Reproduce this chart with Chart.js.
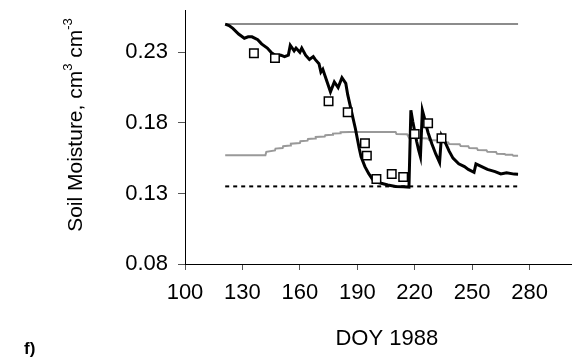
<!DOCTYPE html>
<html>
<head>
<meta charset="utf-8">
<title>Soil moisture, DOY 1988</title>
<script src="https://cdn.jsdelivr.net/npm/chart.js@4.4.1/dist/chart.umd.min.js"></script>
<style>
    html, body { margin: 0; padding: 0; background: #fff; overflow: hidden; }
    #wrap { width: 596px; height: 358px; }
</style>
</head>
<body>
<div id="wrap"><canvas id="moistureChart" width="596" height="358"></canvas></div>
<script>
// simulated soil water content (daily)
const simDays = [121, 123, 125, 128, 131, 133, 135, 138, 140, 143, 145, 148, 150, 152, 154, 155, 157, 158, 160, 161,
    163, 165, 167, 168, 170, 171, 172, 173, 176, 178, 180, 182, 184, 185, 187, 189, 191, 192, 194, 196,
    198, 200, 203, 206, 210, 214, 217, 218, 219, 220, 221, 222, 223, 224, 225, 226, 227, 229, 231, 233,
    234, 236, 238, 240, 243, 246, 248, 251, 252, 255, 258, 262, 265, 268, 272, 274];
const simTheta = [0.250, 0.249, 0.247, 0.243, 0.240, 0.241, 0.241, 0.239, 0.236, 0.233, 0.230, 0.227, 0.228, 0.227, 0.228, 0.235, 0.231, 0.233, 0.230, 0.233,
    0.228, 0.225, 0.227, 0.225, 0.222, 0.216, 0.218, 0.214, 0.202, 0.209, 0.205, 0.212, 0.208, 0.200, 0.188, 0.176, 0.162, 0.156, 0.149, 0.144,
    0.140, 0.138, 0.137, 0.136, 0.135, 0.1348, 0.1345, 0.189, 0.181, 0.174, 0.167, 0.161, 0.156, 0.189, 0.184, 0.178, 0.173, 0.165, 0.158, 0.152,
    0.171, 0.166, 0.160, 0.155, 0.151, 0.149, 0.147, 0.145, 0.151, 0.149, 0.147, 0.1455, 0.1438, 0.1446, 0.1437, 0.1436];

// measured values
const obsDays = [136, 147, 175, 185, 194, 195, 200, 208, 214, 220, 227, 234];
const obsTheta = [0.2294, 0.2259, 0.1954, 0.1876, 0.1656, 0.1568, 0.1403, 0.1438, 0.1417, 0.1722, 0.1798, 0.1691];

// saturation
const satDays = [121, 274];
const satTheta = [0.25, 0.25];

// field capacity
const fcDays = [121, 142, 142.5, 147, 147.3, 151, 151.3, 155, 155.3, 160, 160.3, 164, 164.3, 168, 168.3, 173, 173.3, 177, 177.3, 181,
    181.3, 186, 190, 210, 210.5, 216, 216.5, 221, 221.5, 227, 227.5, 232, 232.5, 237.5, 238, 243.5, 244, 248, 248.5, 252.5,
    253, 257.5, 258, 262.5, 263, 267, 267.5, 271, 271.5, 274];
const fcTheta = [0.157, 0.157, 0.1595, 0.1605, 0.1618, 0.1622, 0.1635, 0.1640, 0.1652, 0.1657, 0.1670, 0.1674, 0.1686, 0.1690, 0.1700, 0.1703, 0.1713, 0.1716, 0.1724, 0.1727,
    0.1733, 0.1735, 0.1736, 0.1736, 0.1722, 0.1720, 0.1708, 0.1705, 0.1693, 0.1690, 0.1678, 0.1676, 0.1664, 0.1662, 0.1650, 0.1648, 0.1636, 0.1634, 0.1622, 0.1620,
    0.1608, 0.1606, 0.1595, 0.1593, 0.1582, 0.1580, 0.1574, 0.1574, 0.1568, 0.1568];

// wilting point
const wpDays = [121, 274];
const wpTheta = [0.135, 0.135];

const xTicks = [100, 130, 160, 190, 220, 250, 280];
const yTicks = [0.08, 0.13, 0.18, 0.23];

const fontFamily = "'Liberation Sans', Arial, Helvetica, sans-serif";

document.addEventListener("DOMContentLoaded", function () {
    drawMoistureChart();
});

function toPoints(xs, ys) {
    return xs.map((x, i) => ({ x: x, y: ys[i] }));
}

// y title has superscripts, so it is drawn by hand; same for the panel letter
const axisTextPlugin = {
    id: "axisText",
    afterDraw(chart) {
        const ctx = chart.ctx;
        ctx.save();
        ctx.fillStyle = "#000";
        ctx.textBaseline = "alphabetic";
        ctx.textAlign = "left";

        ctx.font = "bold 17px " + fontFamily;
        ctx.fillText("f)", 24, 354);

        const mainFont = "21px " + fontFamily;
        const supFont = "13px " + fontFamily;
        const parts = [
            { text: "Soil Moisture, cm", sup: false },
            { text: "3", sup: true },
            { text: " cm", sup: false },
            { text: "-3", sup: true }
        ];
        let total = 0;
        parts.forEach(p => {
            ctx.font = p.sup ? supFont : mainFont;
            p.w = ctx.measureText(p.text).width;
            total += p.w;
        });
        ctx.translate(82, 125);
        ctx.rotate(-Math.PI / 2);
        let pos = -total / 2;
        parts.forEach(p => {
            ctx.font = p.sup ? supFont : mainFont;
            ctx.fillText(p.text, pos, p.sup ? -10 : 0);
            pos += p.w;
        });
        ctx.restore();
    }
};

function drawMoistureChart() {
    const ctx = document.getElementById("moistureChart").getContext("2d");
    new Chart(ctx, {
        type: "line",
        data: {
            datasets: [
                {
                    label: "Measured",
                    data: toPoints(obsDays, obsTheta),
                    showLine: false,
                    pointStyle: "rect",
                    pointRadius: 6,
                    pointBorderWidth: 1.5,
                    pointBorderColor: "#000",
                    pointBackgroundColor: "#fff"
                },
                {
                    label: "Simulated",
                    data: toPoints(simDays, simTheta),
                    borderColor: "#000",
                    borderWidth: 3,
                    pointRadius: 0,
                    tension: 0
                },
                {
                    label: "Field capacity",
                    data: toPoints(fcDays, fcTheta),
                    borderColor: "#999",
                    borderWidth: 2,
                    pointRadius: 0,
                    tension: 0
                },
                {
                    label: "Saturation",
                    data: toPoints(satDays, satTheta),
                    borderColor: "#666",
                    borderWidth: 1.5,
                    pointRadius: 0
                },
                {
                    label: "Wilting point",
                    data: toPoints(wpDays, wpTheta),
                    borderColor: "#000",
                    borderWidth: 2,
                    borderDash: [4, 4],
                    pointRadius: 0
                }
            ]
        },
        options: {
            responsive: false,
            animation: false,
            layout: { padding: { top: 10, left: 0, right: 0, bottom: 0 } },
            plugins: {
                legend: { display: false },
                tooltip: { enabled: false }
            },
            scales: {
                x: {
                    type: "linear",
                    min: 100,
                    max: 310.8,
                    afterBuildTicks: function (scale) {
                        scale.ticks = xTicks.map(v => ({ value: v }));
                    },
                    afterFit: function (scale) {
                        scale.height = 94;
                        scale.paddingLeft = 0;
                        scale.paddingRight = 0;
                    },
                    ticks: {
                        color: "#000",
                        font: { size: 22, family: fontFamily },
                        padding: 10,
                        maxRotation: 0,
                        autoSkip: false
                    },
                    grid: { drawOnChartArea: false, tickLength: 6, color: "#555" },
                    border: { color: "#000", width: 1 },
                    title: {
                        display: true,
                        text: "DOY 1988",
                        color: "#000",
                        font: { size: 22, family: fontFamily },
                        padding: { top: 0, bottom: 6 }
                    }
                },
                y: {
                    min: 0.08,
                    max: 0.26,
                    afterBuildTicks: function (scale) {
                        scale.ticks = yTicks.map(v => ({ value: v }));
                    },
                    afterFit: function (scale) {
                        scale.width = 185;
                        scale.paddingTop = 0;
                        scale.paddingBottom = 0;
                    },
                    ticks: {
                        color: "#000",
                        font: { size: 22, family: fontFamily },
                        padding: 10,
                        callback: v => v.toFixed(2)
                    },
                    grid: { drawOnChartArea: false, tickLength: 7, color: "#555" },
                    border: { color: "#000", width: 1 }
                }
            }
        },
        plugins: [axisTextPlugin]
    });
}
</script>
</body>
</html>
